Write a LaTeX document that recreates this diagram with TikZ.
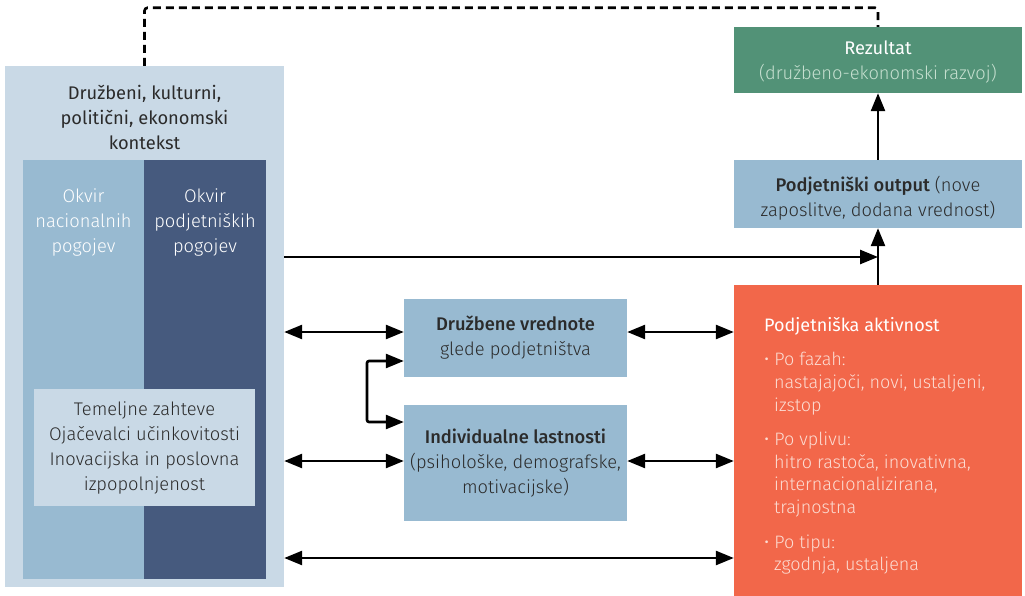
\documentclass[tikz,border=0pt]{standalone}
\usepackage{fontspec}
\setmainfont{Fira Sans}[FontFace={l}{n}{Font=Fira Sans Light},FontFace={sb}{n}{Font=Fira Sans Medium}]
\usetikzlibrary{arrows.meta,positioning}
\definecolor{ctxblue}{HTML}{C9D9E6}
\definecolor{midblue}{HTML}{98BAD1}
\definecolor{darkblue}{HTML}{465A7E}
\definecolor{resgreen}{HTML}{529277}
\definecolor{palegreen}{HTML}{C5DFCF}
\definecolor{actorange}{HTML}{F2674A}
\definecolor{paleorange}{HTML}{FCDCD2}
\definecolor{txt}{HTML}{2B2B2B}
\newcommand{\lt}{\fontseries{l}\selectfont}
\newcommand{\semib}{\fontseries{sb}\selectfont}
\begin{document}
\begin{tikzpicture}[x=1pt,y=-1pt,% one unit = one pixel, y downwards
        every node/.style={font=\fontsize{18.3}{25}\selectfont,text=txt,inner sep=0pt},
        panel/.style={draw=none,minimum width=#1},
        arr/.style={line width=2.6pt,-{Triangle[length=18pt,width=14pt]}},
        dbl/.style={line width=2.6pt,{Triangle[length=18pt,width=14pt]}-{Triangle[length=18pt,width=14pt]}}]
\useasboundingbox (0,0) rectangle (1025,596);

% left column: context and frameworks
\node[panel=279pt,fill=ctxblue,minimum height=521pt] (context) at (144.5,326.5) {};
\node[panel=121pt,fill=midblue,minimum height=419pt] (natfw) at (83.5,369.5) {};
\node[panel=122pt,fill=darkblue,minimum height=419pt] (entfw) at (205,369.5) {};
\node[panel=221pt,fill=ctxblue,minimum height=117pt,align=center] (basic) at (144.5,447.5)
  {\lt Temeljne zahteve\\ \lt Oja\v{c}evalci u\v{c}inkovitosti\\ \lt Inovacijska in poslovna\\ \lt izpopolnjenost};
\node[align=center] (ctxtitle) at (144.5,117) {Dru\v{z}beni, kulturni,\\ politi\v{c}ni, ekonomski\\ kontekst};
\node[align=center,text=white] (nattxt) at (natfw.center |- 0,222) {\lt Okvir\\ \lt nacionalnih\\ \lt pogojev};
\node[align=center,text=white] (enttxt) at (entfw.center |- 0,222) {\lt Okvir\\ \lt podjetni\v{s}kih\\ \lt pogojev};

% middle boxes
\node[panel=223pt,fill=midblue,minimum height=78pt,align=center] (values) at (515.5,338)
  {\semib Dru\v{z}bene vrednote\\ \lt glede podjetni\v{s}tva};
\node[panel=223pt,fill=midblue,minimum height=116pt,align=center] (traits) at (515.5,463)
  {\semib Individualne lastnosti\\ \lt (psiholo\v{s}ke, demografske,\\ \lt motivacijske)};

% right column
\node[panel=288pt,fill=resgreen,minimum height=66pt] (result) at (878,60) {};
\node[align=center,text=white] (restxt) at (878,62) {Rezultat\\ \color{palegreen}\lt (dru\v{z}beno-ekonomski razvoj)};
\node[panel=288pt,fill=midblue,minimum height=68pt] (output) at (878,194) {};
\node[align=center] (outtxt) at (878,198) {{\semib Podjetni\v{s}ki output} {\lt (nove}\\ \lt zaposlitve, dodana vrednost)};
\node[panel=288pt,fill=actorange,minimum height=311pt] (activity) at (878,440.5) {};
\node[anchor=north west,align=left,text=paleorange,font=\fontsize{18}{22.6}\selectfont] (acttxt) at (764,317)
  {{\color{white}Podjetni\v{s}ka aktivnost}\\[12pt]
   \lt\textbullet\ Po fazah:\\ \lt\hspace{10pt}nastajajo\v{c}i, novi, ustaljeni,\\ \lt\hspace{10pt}izstop\\[12pt]
   \lt\textbullet\ Po vplivu:\\ \lt\hspace{10pt}hitro rasto\v{c}a, inovativna,\\ \lt\hspace{10pt}internacionalizirana,\\ \lt\hspace{10pt}trajnostna\\[12pt]
   \lt\textbullet\ Po tipu:\\ \lt\hspace{10pt}zgodnja, ustaljena};

\coordinate (top) at (0,257);
\coordinate (low) at (0,558);

% connectors
\draw[arr] (output.north) -- (result.south);
\draw[arr] (activity.north -| output.south) -- (output.south);
\draw[arr] (context.east |- top) -- (output.south |- top);
\draw[dbl] (context.east |- 0,332) -- ([yshift=6pt]values.west);
\draw[dbl] ([yshift=6pt]values.east) -- (activity.west |- 0,332);
\draw[dbl] (context.east |- 0,461) -- ([yshift=2pt]traits.west);
\draw[dbl] ([yshift=2pt]traits.east) -- (activity.west |- 0,461);
\draw[dbl] (context.east |- low) -- (activity.west |- low);
\draw[dbl,rounded corners=2pt] ([yshift=-23pt]values.west) -| (367,422) -- ([yshift=41pt]traits.west);
\draw[line width=2.6pt,dash pattern=on 8pt off 5pt,rounded corners=3pt] (context.north) -- ++(0,-58) -| (result.north);
\end{tikzpicture}
\end{document}
